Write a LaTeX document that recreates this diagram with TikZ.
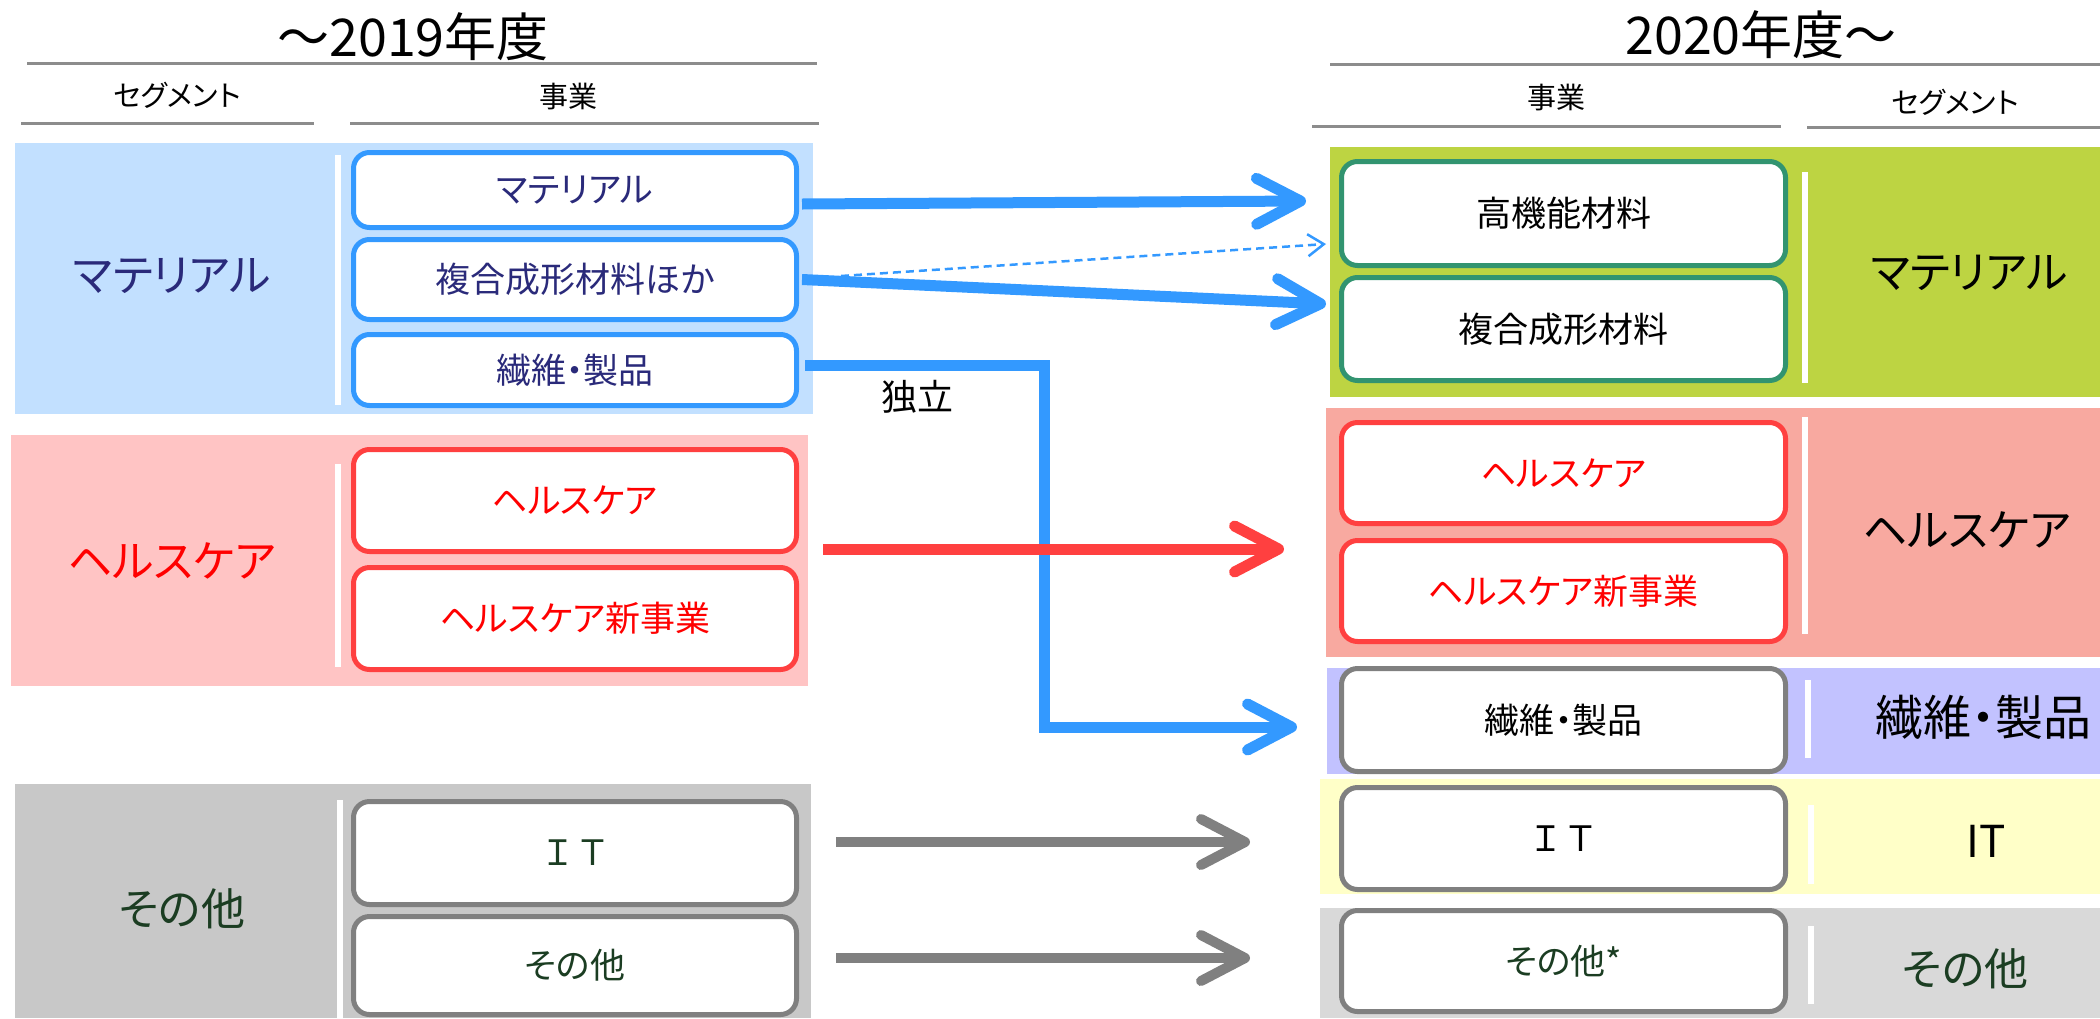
\documentclass[tikz,border=0pt]{standalone}
\usepackage{fontspec}
\newfontfamily\jp[RawFeature={+palt}]{Noto Sans CJK JP}
\newfontfamily\jpn{Noto Sans CJK JP}
\usetikzlibrary{arrows.meta,calc}
\definecolor{segBlue}{HTML}{C2E0FF}
\definecolor{bBlue}{HTML}{3399FF}
\definecolor{navy}{HTML}{2A2A7A}
\definecolor{segPink}{HTML}{FFC4C4}
\definecolor{bRed}{HTML}{FF4040}
\definecolor{tRed}{HTML}{FF0000}
\definecolor{segGrey}{HTML}{C8C8C8}
\definecolor{bGrey}{HTML}{808080}
\definecolor{dGreen}{HTML}{1B3D22}
\definecolor{rGreen}{HTML}{BDD442}
\definecolor{bGreen}{HTML}{329470}
\definecolor{salmon}{HTML}{F8A9A0}
\definecolor{lav}{HTML}{C2C2FF}
\definecolor{yel}{HTML}{FFFFC8}
\definecolor{lgrey}{HTML}{D9D9D9}
\definecolor{hdrGrey}{HTML}{8C8C8C}
\newcommand\myfs[1]{\fontsize{#1}{#1}\selectfont}
\begin{document}
\begin{tikzpicture}[x=1pt,y=-1pt,
  biz/.style={draw, line width=5pt, rounded corners=16pt, fill=white, inner sep=0pt, font=\jp\myfs{35}},
  lb/.style={biz, minimum width=443pt},
  rb/.style={biz, minimum width=444pt},
  seglab/.style={inner sep=0pt, font=\jp\myfs{44}},
  hdr/.style={draw=hdrGrey, line width=3pt},
  sepl/.style={draw=white, line width=6pt},
  htext/.style={inner sep=0pt, font=\jp\myfs{29}},
  ttext/.style={inner sep=0pt, font=\jp\myfs{52}},
  fat/.style={line width=11pt, -{Straight Barb[length=44pt,width=46pt,round]}},
]
\useasboundingbox (0,0) rectangle (2100,1018);
\fill[white] (0,0) rectangle (2100,1018);

% ---------- headers ----------
\node[ttext] (tl) at (413,37) {～2019年度};
\node[ttext] (tr) at (1761,35) {2020年度～};
\draw[hdr] (27,63) -- (817,63);
\draw[hdr] (1330,64) -- (2100,64);
\node[htext] (hsl) at (177,95) {セグメント};
\node[htext] (hbl) at (568,97) {事業};
\draw[hdr] (21,123) -- (314,123);
\draw[hdr] (350,123) -- (819,123);
\node[htext] (hbr) at (1556,98) {事業};
\node[htext] (hsr) at (1955,102) {セグメント};
\draw[hdr] (1312,126) -- (1781,126);
\draw[hdr] (1807,127) -- (2100,127);

% ---------- left backgrounds ----------
\fill[segBlue] (15,143) rectangle (813,414);
\fill[segPink] (11,435) rectangle (808,686);
\fill[segGrey] (15,784) rectangle (811,1018);
\draw[sepl] (338,155) -- (338,405);
\draw[sepl] (338,464) -- (338,667);
\draw[sepl] (340,800) -- (340,1018);

% ---------- right backgrounds ----------
\fill[rGreen] (1330,147) rectangle (2100,397);
\fill[salmon] (1326,408) rectangle (2100,657);
\fill[lav] (1327,668) rectangle (2100,774);
\fill[yel] (1320,779) rectangle (2100,894);
\fill[lgrey] (1320,908) rectangle (2100,1018);
\draw[sepl] (1805,172) -- (1805,383);
\draw[sepl] (1805,417) -- (1805,634);
\draw[sepl] (1808,680) -- (1808,758);
\draw[sepl] (1811,805) -- (1811,884);
\draw[sepl] (1811,926) -- (1811,1004);

% ---------- left segment labels ----------
\node[seglab, text=navy] (sl1) at (172,276) {マテリアル};
\node[seglab, text=tRed] (sl2) at (172,561) {ヘルスケア};
\node[seglab, text=dGreen] (sl3) at (182,909) {その他};

% ---------- right segment labels ----------
\node[seglab] (sr1) at (1969,273) {マテリアル};
\node[seglab] (sr2) at (1967,530) {ヘルスケア};
\node[seglab, font=\jp\myfs{48}] (sr3) at (1983,717) {繊維・製品};
\node[seglab] (sr4) at (1986,841) {IT};
\node[seglab, text=dGreen] (sr5) at (1965,969) {その他};

% ---------- left business boxes ----------
\node[lb, draw=bBlue, text=navy, minimum height=75pt] (m1) at (575,190) {マテリアル};
\node[lb, draw=bBlue, text=navy, minimum height=80pt] (m2) at (575,279.5) {複合成形材料ほか};
\node[lb, draw=bBlue, text=navy, minimum height=71pt] (m3) at (575,370) {繊維・製品};
\node[lb, draw=bRed, text=tRed, minimum height=102pt] (h1) at (575,500.5) {ヘルスケア};
\node[lb, draw=bRed, text=tRed, minimum height=102pt] (h2) at (575,618.5) {ヘルスケア新事業};
\node[lb, draw=bGrey, text=dGreen, minimum height=103pt, font=\jpn\myfs{35}] (i1) at (575,853) {ＩＴ};
\node[lb, draw=bGrey, text=dGreen, minimum height=98pt] (o1) at (575,965.5) {その他};

% ---------- right business boxes ----------
\node[rb, draw=bGreen, minimum height=104pt] (r1) at (1563.5,213.5) {高機能材料};
\node[rb, draw=bGreen, minimum height=103pt] (r2) at (1563.5,329) {複合成形材料};
\node[rb, draw=bRed, text=tRed, minimum height=101pt] (r3) at (1563.5,473) {ヘルスケア};
\node[rb, draw=bRed, text=tRed, minimum height=101pt] (r4) at (1563.5,591) {ヘルスケア新事業};
\node[rb, draw=bGrey, minimum height=103pt] (r5) at (1563.5,720) {繊維・製品};
\node[rb, draw=bGrey, minimum height=102pt, font=\jpn\myfs{35}] (r6) at (1563.5,838.5) {ＩＴ};
\node[rb, draw=bGrey, text=dGreen, minimum height=101pt] (r7) at (1563.5,961) {その他*};

% ---------- arrow end points ----------
\coordinate (e1) at (1306,201);
\coordinate (d0) at (841,276);
\coordinate (d1) at (1326,244);
\coordinate (e2) at (1326,304);
\coordinate (jx) at (1044,365);
\coordinate (e3) at (1297,727);
\coordinate (s4) at (823,549);
\coordinate (e4) at (1284,549);
\coordinate (s5) at (836,842);
\coordinate (e5) at (1250,842);
\coordinate (s6) at (836,958);
\coordinate (e6) at (1250,958);

% ---------- arrows ----------
\draw[fat, bBlue] ($(m1.east)+(3,14)$) -- (e1);
\draw[bBlue, line width=2.5pt, dash pattern=on 8pt off 5pt, -{Straight Barb[length=16pt,width=22pt]}] (d0) -- (d1);
\draw[fat, bBlue] ($(m2.east)+(3,0)$) -- (e2);
\draw[fat, bBlue] ($(m3.east)+(6,-5)$) -- (jx) |- (e3);
\node[inner sep=0pt, font=\jp\myfs{36}] (ind) at (917,397) {独立};
\draw[fat, bRed] (s4) -- (e4);
\draw[fat, bGrey, line width=10pt] (s5) -- (e5);
\draw[fat, bGrey, line width=10pt] (s6) -- (e6);
\end{tikzpicture}
\end{document}
